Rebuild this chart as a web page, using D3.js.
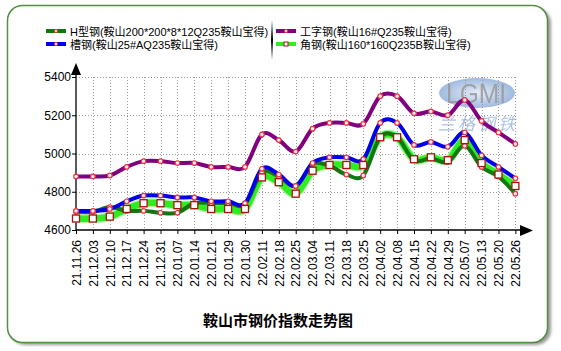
<!DOCTYPE html>
<html><head><meta charset="utf-8">
<script src="https://cdn.jsdelivr.net/npm/d3@7"></script>
<style>
html,body{margin:0;padding:0;background:#fff;}
svg{display:block;}
</style></head>
<body>
<svg id="chart" width="561" height="351"></svg>
<script>
const categories = ["21.11.26","21.12.03","21.12.10","21.12.17","21.12.24","21.12.31","22.01.07","22.01.14","22.01.21","22.01.29","22.01.30","22.02.11","22.02.18","22.02.25","22.03.04","22.03.11","22.03.18","22.03.25","22.04.02","22.04.08","22.04.15","22.04.22","22.04.29","22.05.07","22.05.13","22.05.20","22.05.26"];
const hBeam   = [4695,4695,4720,4700,4700,4690,4690,4740,4740,4740,4735,4900,4880,4830,4945,4935,4890,4885,5085,5085,4965,4975,4955,5040,4930,4880,4790];
const channel = [4700,4700,4710,4750,4780,4780,4770,4770,4750,4750,4740,4920,4890,4830,4950,4980,4980,4970,5160,5160,5045,5060,5035,5110,4990,4930,4870];
const iBeam   = [4880,4880,4885,4930,4960,4960,4950,4950,4930,4930,4930,5100,5070,5010,5130,5160,5160,5155,5300,5300,5210,5220,5200,5280,5170,5110,5050];
const angle   = [4660,4660,4670,4710,4740,4740,4730,4730,4710,4710,4710,4875,4850,4790,4910,4940,4940,4940,5085,5085,4970,4980,4965,5070,4950,4890,4830];
const yTicks  = [4600,4800,5000,5200,5400];
const seriesNames = ["H型钢(鞍山200*200*8*12Q235鞍山宝得)","槽钢(鞍山25#AQ235鞍山宝得)","工字钢(鞍山16#Q235鞍山宝得)","角钢(鞍山160*160Q235B鞍山宝得)"];
const chartTitle = "鞍山市钢价指数走势图";

const svg = d3.select("#chart");
const defs = svg.append("defs");
const blur = defs.append("filter").attr("id","sh").attr("x","-5%").attr("y","-5%").attr("width","110%").attr("height","110%");
blur.append("feGaussianBlur").attr("stdDeviation",1.5);
const eg = defs.append("radialGradient").attr("id","lg");
eg.append("stop").attr("offset","0%").attr("stop-color","#dfe9f6");
eg.append("stop").attr("offset","100%").attr("stop-color","#90aedb");

// frame
svg.append("rect").attr("x",10).attr("y",8).attr("width",541).attr("height",337).attr("rx",15)
  .attr("fill","#9a9a9a").attr("filter","url(#sh)");
svg.append("rect").attr("x",7.5).attr("y",5.5).attr("width",540).attr("height",337).attr("rx",15)
  .attr("fill","#fff").attr("stroke","#4f8f3f").attr("stroke-width",1.5);

const x = d3.scalePoint().domain(categories).range([76, 515.4]);
const y = d3.scaleLinear().domain([4600,5400]).range([230, 77]);

// watermark
const wm = svg.append("g").attr("opacity",0.85);
wm.append("ellipse").attr("cx",477).attr("cy",93).attr("rx",38).attr("ry",15).attr("fill","url(#lg)");
wm.append("text").attr("x",476).attr("y",103).attr("text-anchor","middle")
  .attr("font-family","Liberation Sans, Arial").attr("font-size",27).attr("fill","#888").attr("opacity",0.85)
  .attr("textLength",60).attr("lengthAdjust","spacingAndGlyphs").text("LGMI");
wm.append("text").attr("x",478).attr("y",130).attr("text-anchor","middle")
  .attr("font-family","Noto Sans CJK SC").attr("font-size",17).attr("font-style","italic").attr("fill","#9fb6dc")
  .attr("letter-spacing",3).text("兰格钢铁");

// grid
const grid = svg.append("g").attr("stroke","#9a9a9a").attr("stroke-dasharray","1,2").attr("stroke-width",1);
grid.selectAll("line.v").data(categories.slice(1)).join("line")
  .attr("x1",d=>Math.round(x(d))+0.5).attr("x2",d=>Math.round(x(d))+0.5).attr("y1",y(5400)).attr("y2",y(4600));
grid.selectAll("line.h").data(yTicks.slice(1)).join("line")
  .attr("x1",76).attr("x2",516).attr("y1",d=>Math.round(y(d))+0.5).attr("y2",d=>Math.round(y(d))+0.5);

// axes
const yAxis = svg.append("g").attr("transform","translate(76,0)")
  .call(d3.axisLeft(y).tickValues(yTicks).tickSize(4).tickPadding(1).tickFormat(d3.format("d")));
yAxis.select(".domain").remove();
yAxis.selectAll("text").attr("font-family","Liberation Sans, Arial").attr("font-size",12).attr("fill","#000");
yAxis.selectAll("line").attr("stroke","#000");
svg.append("line").attr("x1",76).attr("x2",76).attr("y1",70).attr("y2",231).attr("stroke","#000").attr("stroke-width",1.3);
svg.append("path").attr("d","M76,63 L71,75 L81,75 Z").attr("fill","#000");

const xAxis = svg.append("g").attr("transform","translate(0,230)")
  .call(d3.axisBottom(x).tickSize(4).tickPadding(3));
xAxis.select(".domain").remove();
xAxis.selectAll("line").attr("stroke","#000");
xAxis.selectAll("text").attr("font-family","Liberation Sans, Arial").attr("font-size",12).attr("fill","#000")
  .attr("transform","rotate(-90)").attr("text-anchor","end").attr("dy","0.35em").attr("x",-10).attr("y",0);
svg.append("line").attr("x1",76).attr("x2",522).attr("y1",230).attr("y2",230).attr("stroke","#000").attr("stroke-width",1.3);
svg.append("path").attr("d","M533,230.5 L520,225 L520,236 Z").attr("fill","#000");

// lines
const line = d3.line().x((d,i)=>x(categories[i])).y(d=>y(d)).curve(d3.curveCardinal.tension(0));
const series = [
  {v:angle, c:"#2eee22", w:6.5, glow:true},
  {v:hBeam, c:"#117711", w:4},
  {v:channel, c:"#0000ee", w:4},
  {v:iBeam, c:"#800080", w:4}
];
series.forEach(s=>{
  if (s.glow) svg.append("path").attr("d",line(s.v)).attr("fill","none").attr("stroke","#b5f5aa").attr("stroke-width",s.w+2.5).attr("stroke-linejoin","round");
  svg.append("path").attr("d",line(s.v)).attr("fill","none").attr("stroke",s.c).attr("stroke-width",s.w)
    .attr("stroke-linejoin","round").attr("stroke-linecap","round");
});
// markers
[series[1],series[2],series[3]].forEach(s=>{
  svg.append("g").selectAll("circle").data(s.v).join("circle")
    .attr("cx",(d,i)=>x(categories[i])).attr("cy",d=>y(d)).attr("r",2.3)
    .attr("fill","#fff0f0").attr("stroke","#ee3344").attr("stroke-width",1.2);
});
svg.append("g").selectAll("rect").data(angle).join("rect")
  .attr("x",(d,i)=>x(categories[i])-3.5).attr("y",d=>y(d)-3.5).attr("width",7).attr("height",7)
  .attr("fill","#fff").attr("stroke","#aa1111").attr("stroke-width",1.3);

// legend
const leg = [
  {x:46, y:31, c:"#117711", t:seriesNames[0], m:"ci"},
  {x:46, y:44, c:"#0000ee", t:seriesNames[1], m:"ci"},
  {x:276, y:31, c:"#800080", t:seriesNames[2], m:"ci"},
  {x:276, y:44, c:"#2eee22", t:seriesNames[3], m:"sq"}
];
const lg = svg.append("g");
leg.forEach(l=>{
  lg.append("line").attr("x1",l.x).attr("x2",l.x+20).attr("y1",l.y).attr("y2",l.y).attr("stroke",l.c).attr("stroke-width",4);
  if (l.m==="ci") lg.append("circle").attr("cx",l.x+10).attr("cy",l.y).attr("r",1.6).attr("fill","#fff0f0").attr("stroke","#ee3344").attr("stroke-width",1);
  else lg.append("rect").attr("x",l.x+8).attr("y",l.y-2).attr("width",4).attr("height",4).attr("fill","#fff").attr("stroke","#aa1111").attr("stroke-width",1);
  lg.append("text").attr("x",l.x+24).attr("y",l.y+4.5).attr("font-family","Liberation Sans, 'Noto Sans CJK SC'").attr("font-size",11).attr("fill","#000").text(l.t);
});
const sepGrad = defs.append("linearGradient").attr("id","sep").attr("x1",0).attr("y1",0).attr("x2",0).attr("y2",1);
sepGrad.append("stop").attr("offset","0%").attr("stop-color","#fff");
sepGrad.append("stop").attr("offset","50%").attr("stop-color","#000");
sepGrad.append("stop").attr("offset","100%").attr("stop-color","#fff");
svg.append("rect").attr("x",271).attr("y",20).attr("width",2).attr("height",40).attr("fill","url(#sep)");

// title
svg.append("text").attr("x",278).attr("y",326).attr("text-anchor","middle")
  .attr("font-family","Noto Sans CJK SC").attr("font-weight","bold").attr("font-size",15).attr("fill","#000").text(chartTitle);
</script>
</body></html>
